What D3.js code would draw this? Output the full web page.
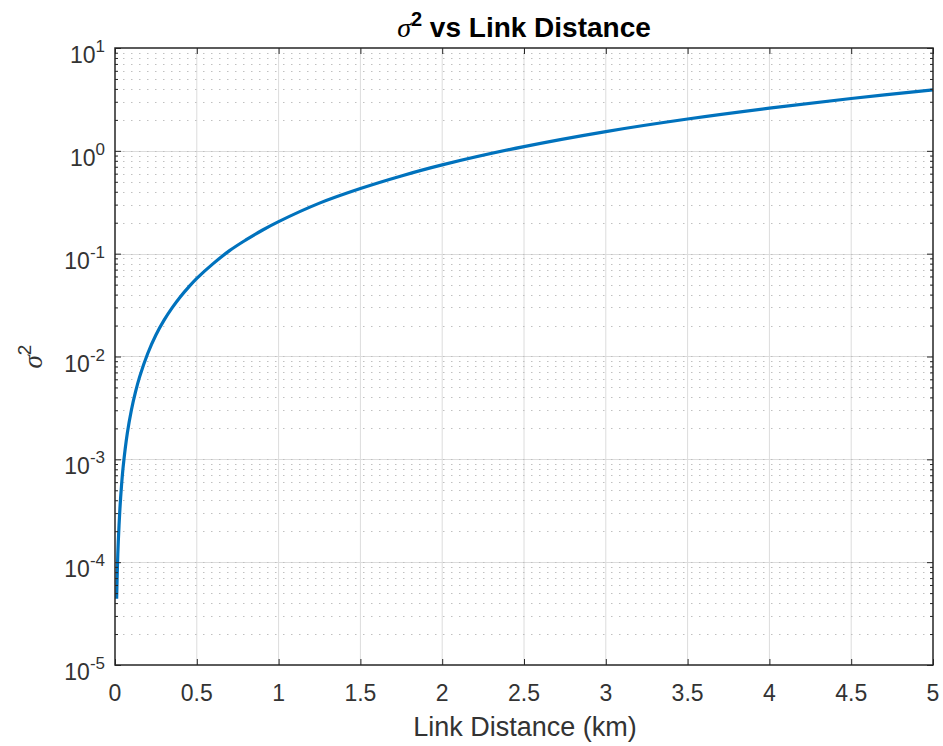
<!DOCTYPE html>
<html>
<head>
<meta charset="utf-8">
<script src="https://cdn.jsdelivr.net/npm/d3@7"></script>
<style>
  html, body { margin: 0; padding: 0; background: #fff; }
  svg { display: block; }
  text { font-family: "Liberation Sans", Arial, Helvetica, sans-serif; }
</style>
</head>
<body>
<svg id="chart" width="943" height="746"></svg>
<script>
// ---- data ----
const distances = [0.01, 0.015, 0.02, 0.03, 0.04, 0.05, 0.075, 0.1, 0.125, 0.15, 0.2, 0.25, 0.3, 0.35, 0.4, 0.45, 0.5, 0.6, 0.7, 0.8, 0.9, 1.0, 1.25, 1.5, 1.75, 2.0, 2.5, 3.0, 3.5, 4.0, 4.5, 5.0];
const sigma2 =    [4.4e-5, 9.3e-5, 1.57e-4, 3.3e-4, 5.6e-4, 8.5e-4, 1.78e-3, 3.0e-3, 4.5e-3, 6.3e-3, 0.0107, 0.0162, 0.0226, 0.0299, 0.0382, 0.0473, 0.0575, 0.080, 0.107, 0.136, 0.169, 0.205, 0.31, 0.43, 0.57, 0.73, 1.10, 1.54, 2.04, 2.60, 3.23, 3.92];
const xTicks = [0, 0.5, 1, 1.5, 2, 2.5, 3, 3.5, 4, 4.5, 5];
const xTickLabels = ["0", "0.5", "1", "1.5", "2", "2.5", "3", "3.5", "4", "4.5", "5"];
const yExponents = [-5, -4, -3, -2, -1, 0, 1];
const titleParts = { symbol: "σ", power: "2", rest: " vs Link Distance" };
const xLabel = "Link Distance (km)";

// ---- layout ----
const svg = d3.select("#chart");
const L = 115, R = 933, T = 48, B = 665;
const x = d3.scaleLinear().domain([0, 5]).range([L, R]);
const y = d3.scaleLog().domain([1e-5, 1e1]).range([B, T]);
const axisColor = "#262626";
const labelColor = "#333333";

// minor values
const minorY = [];
yExponents.slice(0, -1).forEach(e => {
  for (let m = 2; m <= 9; m++) minorY.push(m * Math.pow(10, e));
});
const majorY = yExponents.map(e => Math.pow(10, e));

// ---- grid ----
const grid = svg.append("g");
grid.selectAll(".vgrid").data(xTicks.slice(1, -1)).enter().append("line")
  .attr("x1", d => x(d)).attr("x2", d => x(d))
  .attr("y1", T).attr("y2", B)
  .attr("stroke", "#dcdcdc").attr("stroke-width", 1);
grid.selectAll(".hminor").data(minorY).enter().append("line")
  .attr("x1", L).attr("x2", R)
  .attr("y1", d => Math.round(y(d)) + 0.5).attr("y2", d => Math.round(y(d)) + 0.5)
  .attr("stroke", "#c0c0c0").attr("stroke-width", 1)
  .attr("stroke-dasharray", "1.5,6.5");
grid.selectAll(".hmajor").data(majorY.slice(1, -1)).enter().append("line")
  .attr("x1", L).attr("x2", R)
  .attr("y1", d => Math.round(y(d)) + 0.5).attr("y2", d => Math.round(y(d)) + 0.5)
  .attr("stroke", "#dcdcdc").attr("stroke-width", 1);
grid.selectAll(".hmajord").data(majorY.slice(1, -1)).enter().append("line")
  .attr("x1", L).attr("x2", R)
  .attr("y1", d => Math.round(y(d)) + 0.5).attr("y2", d => Math.round(y(d)) + 0.5)
  .attr("stroke", "#c0c0c0").attr("stroke-width", 1)
  .attr("stroke-dasharray", "1.5,6.5");

// ---- data line ----
const line = d3.line()
  .x((d, i) => x(distances[i]))
  .y(d => y(d))
  .curve(d3.curveCatmullRom.alpha(0.5));
svg.append("path")
  .datum(sigma2)
  .attr("d", line)
  .attr("fill", "none")
  .attr("stroke", "#0072BD")
  .attr("stroke-width", 3.2)
  .attr("stroke-linejoin", "round");

// ---- axes (box with inward ticks) ----
const axes = svg.append("g");
function tickAxis(gen, tx, ty) {
  const g = axes.append("g").attr("transform", `translate(${tx},${ty})`).call(gen);
  g.selectAll("text").remove();
  g.select(".domain").remove();
  g.selectAll("line").attr("stroke", axisColor).attr("stroke-width", 1);
  return g;
}
tickAxis(d3.axisBottom(x).tickValues(xTicks).tickSize(-6).tickSizeOuter(0), 0, B);
tickAxis(d3.axisTop(x).tickValues(xTicks).tickSize(-6).tickSizeOuter(0), 0, T);
tickAxis(d3.axisLeft(y).tickValues(majorY).tickSize(-6).tickSizeOuter(0), L, 0);
tickAxis(d3.axisLeft(y).tickValues(minorY).tickSize(-3).tickSizeOuter(0), L, 0);
tickAxis(d3.axisRight(y).tickValues(majorY).tickSize(-6).tickSizeOuter(0), R, 0);
tickAxis(d3.axisRight(y).tickValues(minorY).tickSize(-3).tickSizeOuter(0), R, 0);
axes.append("rect")
  .attr("x", L).attr("y", T).attr("width", R - L).attr("height", B - T)
  .attr("fill", "none").attr("stroke", axisColor).attr("stroke-width", 1.5);

// ---- tick labels ----
svg.append("g").selectAll("text").data(xTicks).enter().append("text")
  .attr("x", d => x(d)).attr("y", B + 36)
  .attr("text-anchor", "middle")
  .attr("font-size", 23).attr("fill", labelColor)
  .text((d, i) => xTickLabels[i]);

const yl = svg.append("g").selectAll("text").data(yExponents).enter().append("text")
  .attr("x", 105).attr("y", d => y(Math.pow(10, d)) + 15)
  .attr("text-anchor", "end")
  .attr("font-size", 23).attr("fill", labelColor);
yl.append("tspan").text("10");
yl.append("tspan").attr("font-size", 17).attr("dy", -11).text(d => String(d));

// ---- title ----
const title = svg.append("text")
  .attr("x", (L + R) / 2).attr("y", 37)
  .attr("text-anchor", "middle")
  .attr("font-size", 28).attr("font-weight", "bold").attr("fill", "#000");
title.append("tspan").attr("font-style", "italic").attr("font-weight", "normal")
  .attr("font-family", "'Liberation Serif', 'Times New Roman', serif").text(titleParts.symbol);
title.append("tspan").attr("font-size", 20).attr("dy", -11).text(titleParts.power);
title.append("tspan").attr("dy", 11).text(titleParts.rest);

// ---- x label ----
svg.append("text")
  .attr("x", (L + R) / 2 + 1).attr("y", 736)
  .attr("text-anchor", "middle")
  .attr("font-size", 27).attr("fill", labelColor)
  .text(xLabel);

// ---- y label ----
const ylab = svg.append("text")
  .attr("transform", `translate(42,${(T + B) / 2}) rotate(-90)`)
  .attr("text-anchor", "middle")
  .attr("font-size", 27).attr("fill", labelColor);
ylab.append("tspan").attr("font-style", "italic")
  .attr("font-family", "'Liberation Serif', 'Times New Roman', serif").text("σ");
ylab.append("tspan").attr("font-size", 19).attr("dy", -11).text("2");
</script>
</body>
</html>
